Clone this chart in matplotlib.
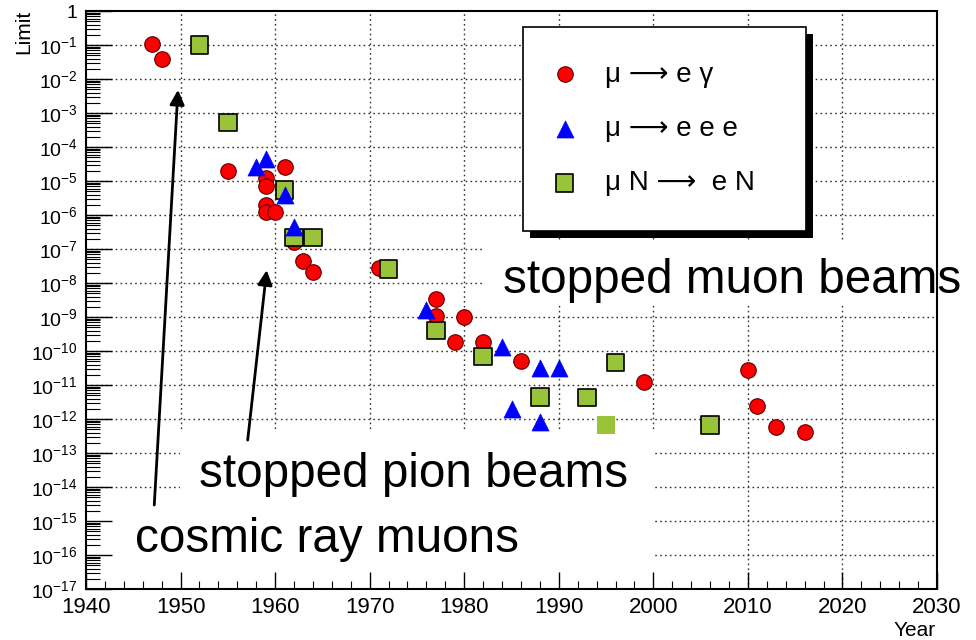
import matplotlib
matplotlib.use('Agg')
import matplotlib.pyplot as plt
from matplotlib.patches import Rectangle
from matplotlib.ticker import FixedLocator, LogLocator, NullFormatter, MultipleLocator
import numpy as np

plt.rcParams['font.family'] = ['Liberation Sans', 'DejaVu Sans']
plt.rcParams['mathtext.fontset'] = 'custom'
plt.rcParams['mathtext.rm'] = 'Liberation Sans'
plt.rcParams['mathtext.it'] = 'Liberation Sans:italic'
plt.rcParams['mathtext.default'] = 'regular'

# mu -> e gamma
meg_year = [1947, 1948, 1955, 1959, 1959, 1959, 1959, 1960, 1961, 1962, 1963, 1964,
            1971, 1977, 1977, 1979, 1980, 1982, 1986, 1999, 2010, 2011, 2013, 2016]
meg_limit = [1.1e-1, 4e-2, 2e-5, 1.2e-5, 7e-6, 2e-6, 1.25e-6, 1.25e-6, 2.5e-5, 1.6e-7, 4.3e-8, 2.1e-8,
             2.8e-8, 3.5e-9, 1.1e-9, 1.9e-10, 1e-9, 1.8e-10, 5e-11, 1.2e-11, 2.8e-11, 2.4e-12, 5.7e-13, 4.2e-13]

# mu -> e e e
eee_year = [1958, 1959, 1961, 1962, 1976, 1984, 1985, 1988, 1988, 1990]
eee_limit = [2.6e-5, 4.4e-5, 3.9e-6, 4.5e-7, 1.6e-9, 1.3e-10, 2e-12, 3.1e-11, 8.3e-13, 3.1e-11]

# mu N -> e N
conv_year = [1952, 1955, 1961, 1962, 1964, 1972, 1977, 1982, 1988, 1993, 1995, 1996, 2006]
conv_limit = [1e-1, 5.2e-4, 5.5e-6, 2.2e-7, 2.2e-7, 2.6e-8, 4e-10, 6.8e-11, 4.5e-12, 4.3e-12,
              6.6e-13, 4.6e-11, 6.6e-13]

legend_labels = ['\u03bc \u27f6 e \u03b3', '\u03bc \u27f6 e e e', '\u03bc N \u27f6  e N']

year_ticks = np.arange(1940, 2031, 10)
exponents = np.arange(-17, 1)
limit_ticks = 10.0 ** exponents
limit_ticklabels = ['1' if e == 0 else '$10^{%d}$' % e for e in exponents]

fig = plt.figure(figsize=(9.76, 6.4), dpi=100)
ax = fig.add_axes([86 / 976, 51 / 640, 851 / 976, 578 / 640])
ax.set_yscale('log')
ax.set_xlim(1940, 2030)
ax.set_ylim(1e-17, 1)

# dotted grid, drawn by hand so the text boxes can hide it
grid_kw = dict(color='#333333', lw=1.0, linestyle=(0, (1.2, 2.3)), zorder=0.5)
for v in limit_ticks[1:-1]:
    ax.axhline(v, **grid_kw)
for y in year_ticks[1:-1]:
    ax.axvline(y, **grid_kw)

# white panes behind the annotation texts
for r in [(0.465, 0.491, 0.6, 0.113), (0.110, 0.0, 0.559, 0.275), (0.0, 0.0, 0.12, 0.145)]:
    ax.add_patch(Rectangle(r[:2], r[2], r[3], transform=ax.transAxes, fc='white', ec='none', zorder=0.8))

ax.scatter(meg_year, meg_limit, s=125, marker='o', color='#ff0000', edgecolors='#5a0000',
           linewidths=0.8, zorder=3, label=legend_labels[0])
conv_edges = ['none' if y == 1995 else 'black' for y in conv_year]
ax.scatter(conv_year, conv_limit, s=160, marker='s', color='#99c43a', edgecolors=conv_edges,
           linewidths=1.2, zorder=4, label=legend_labels[2])
ax.scatter(eee_year, eee_limit, s=150, marker='^', color='#0000ff', edgecolors='#0000ff',
           linewidths=0.5, zorder=5, label=legend_labels[1])

# ticks
ax.yaxis.set_major_locator(FixedLocator(limit_ticks))
ax.set_yticklabels(limit_ticklabels)
ax.yaxis.set_minor_locator(LogLocator(base=10, subs=np.arange(2, 10), numticks=100))
ax.yaxis.set_minor_formatter(NullFormatter())
ax.xaxis.set_major_locator(FixedLocator(year_ticks))
ax.xaxis.set_minor_locator(MultipleLocator(2))
ax.tick_params(axis='y', which='major', direction='in', length=19, width=1, labelsize=14, pad=6)
ax.tick_params(axis='y', which='minor', direction='in', length=10, width=0.8)
ax.tick_params(axis='x', which='major', direction='in', length=12, width=1, labelsize=16, pad=6)
ax.tick_params(axis='x', which='minor', direction='in', length=6, width=0.8)
ax.tick_params(top=False, right=False, which='both')
for sp in ax.spines.values():
    sp.set_linewidth(1.5)

fig.text(24 / 976, 1 - 10 / 640, 'Limit', rotation=90, ha='center', va='top', fontsize=15)
fig.text(936 / 976, 1 - 636 / 640, 'Year', ha='right', va='baseline', fontsize=15)

# annotations
ax.text(1984.1, 10 ** -8.29, 'stopped muon beams', fontsize=34.3, ha='left', va='baseline', zorder=6, clip_on=False)
ax.text(1951.95, 10 ** -14.0, 'stopped pion beams', fontsize=34.3, ha='left', va='baseline', zorder=6)
ax.text(1945.18, 10 ** -15.9, 'cosmic ray muons', fontsize=34.3, ha='left', va='baseline', zorder=6)
arrow_kw = dict(arrowstyle='-|>', lw=2, color='black', mutation_scale=22, shrinkA=0, shrinkB=0)
ax.annotate('', xy=(1949.73, 10 ** -2.32), xytext=(1947.22, 10 ** -14.53), arrowprops=arrow_kw, zorder=6)
ax.annotate('', xy=(1959.11, 10 ** -7.62), xytext=(1957.1, 10 ** -12.62), arrowprops=arrow_kw, zorder=6)

# legend in ROOT style with a hard black shadow
handles, labels = ax.get_legend_handles_labels()
order = [labels.index(l) for l in legend_labels]
leg = ax.legend([handles[i] for i in order], [labels[i] for i in order],
                loc='upper left', bbox_to_anchor=(523 / 976, (640 - 229) / 640, 283 / 976, 202 / 640),
                bbox_transform=fig.transFigure, mode='expand', borderaxespad=0, fontsize=20,
                frameon=True, fancybox=False, framealpha=1, edgecolor='black', borderpad=1.25,
                labelspacing=1.02, handlelength=0.5, handletextpad=1.2, scatterpoints=1)
leg.get_frame().set_linewidth(1.2)
leg.set_zorder(10)

fig.canvas.draw()
bb = leg.get_frame().get_window_extent()
inv = ax.transAxes.inverted()
(x0, y0), (x1, y1) = inv.transform([[bb.x0 + 7, bb.y0 - 7], [bb.x1 + 7, bb.y1 - 7]])
ax.add_patch(Rectangle((x0, y0), x1 - x0, y1 - y0, transform=ax.transAxes, fc='black', ec='none',
                       zorder=9, clip_on=False))

fig.savefig('out.png', dpi=100)
